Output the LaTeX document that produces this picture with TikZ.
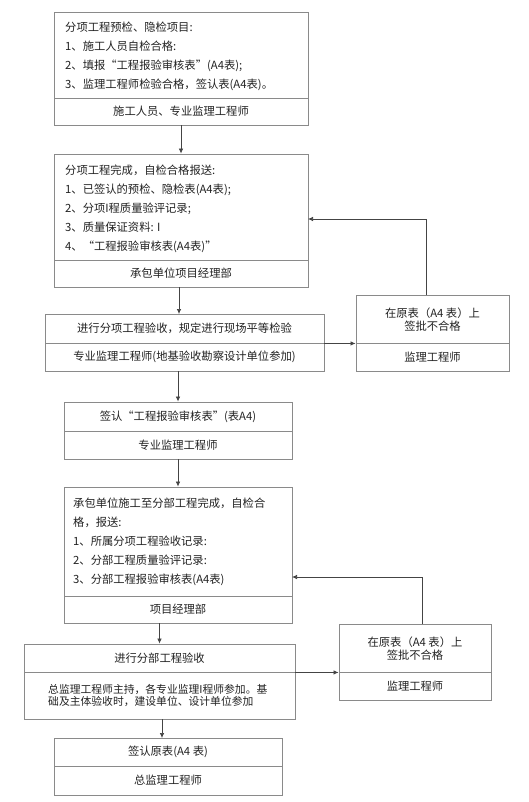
\documentclass[tikz,border=0pt]{standalone}
\usepackage{fontspec}
\setmainfont{Noto Sans CJK SC}
\usetikzlibrary{arrows.meta}
\definecolor{boxline}{HTML}{8A8A8A}
\definecolor{arrline}{HTML}{444444}
\definecolor{txt}{HTML}{222222}
\tikzset{
  part/.style={draw=boxline, line width=0.9pt, inner sep=0pt, minimum width=#1},
  lbl/.style={inner sep=0pt, text=txt, font=\fontsize{11.3}{19}\selectfont},
  lines/.style={lbl, align=left, anchor=west},
  arr/.style={draw=arrline, line width=0.7pt, -{Latex[length=5pt,width=4.5pt]}},
}
\begin{document}
\begin{tikzpicture}[x=1pt,y=-1pt]
\useasboundingbox[fill=white] (0,0) rectangle (528,802);
% Box 1
\node[part=254, minimum height=86] (b1t) at (181,55) {};
\node[part=254, minimum height=27] (b1b) at (181,111.5) {};
\node[lines] (b1x) at (65,56) {分项工程预检、隐检项目:\\1、施工人员自检合格:\\2、填报“工程报验审核表”(A4表);\\3、监理工程师检验合格，签认表(A4表)。};
\node[lbl] (b1y) at (b1b) {施工人员、专业监理工程师};
% Box 2
\node[part=254, minimum height=106] (b2t) at (181,207) {};
\node[part=254, minimum height=27] (b2b) at (181,273.5) {};
\node[lines] (b2x) at (65,208.5) {分项工程完成，自检合格报送:\\1、已签认的预检、隐检表(A4表);\\2、分项I程质量验评记录;\\3、质量保证资料: I\\4、“工程报验审核表(A4表)”};
\node[lbl] (b2y) at (b2b) {承包单位项目经理部};
% Box 3
\node[part=279, minimum height=29] (b3t) at (184.5,328.5) {};
\node[part=279, minimum height=28] (b3b) at (184.5,357) {};
\node[lbl] (b3x) at (b3t) {进行分项工程验收，规定进行现场平等检验};
\node[lbl] (b3y) at (b3b) {专业监理工程师(地基验收勘察设计单位参加)};
% Side 1
\node[part=153, minimum height=48] (s1t) at (432.5,319) {};
\node[part=153, minimum height=28] (s1b) at (432.5,357) {};
\node[lbl, align=center, font=\fontsize{11.3}{13}\selectfont] (s1x) at (432.5,319.5) {在原表（A4 表）上\\签批不合格};
\node[lbl] (s1y) at (s1b) {监理工程师};
% Box 4
\node[part=228, minimum height=29] (b4t) at (178,416.5) {};
\node[part=228, minimum height=28] (b4b) at (178,445) {};
\node[lbl] (b4x) at (b4t) {签认“工程报验审核表”(表A4)};
\node[lbl] (b4y) at (b4b) {专业监理工程师};
% Box 5
\node[part=228, minimum height=109] (b5t) at (178,541.5) {};
\node[part=228, minimum height=27] (b5b) at (178,609.5) {};
\node[lines] (b5x) at (73,541.5) {承包单位施工至分部工程完成，自检合\\格，报送:\\1、所属分项工程验收记录:\\2、分部工程质量验评记录:\\3、分部工程报验审核表(A4表)};
\node[lbl] (b5y) at (b5b) {项目经理部};
% Side 2
\node[part=152, minimum height=48] (s2t) at (415,648) {};
\node[part=152, minimum height=28] (s2b) at (415,686) {};
\node[lbl, align=center, font=\fontsize{11.3}{13}\selectfont] (s2x) at (415,648.5) {在原表（A4 表）上\\签批不合格};
\node[lbl] (s2y) at (s2b) {监理工程师};
% Box 6
\node[part=271, minimum height=28] (b6t) at (159.5,658) {};
\node[part=271, minimum height=47] (b6b) at (159.5,695.5) {};
\node[lbl] (b6x) at (b6t) {进行分部工程验收};
\node[lines, font=\fontsize{10.8}{11.5}\selectfont] (b6y) at (48,695.5) {总监理工程师主持，各专业监理I程师参加。基\\础及主体验收时，建设单位、设计单位参加};
% Box 7
\node[part=228, minimum height=28] (b7t) at (168,752) {};
\node[part=228, minimum height=29] (b7b) at (168,780.5) {};
\node[lbl] (b7x) at (b7t) {签认原表(A4 表)};
\node[lbl] (b7y) at (b7b) {总监理工程师};
% Feedback entry points
\coordinate (in1) at (308,219);
\coordinate (in2) at (292,577);
\coordinate (up1) at (426,295);
\coordinate (up2) at (422,624);
% Connectors
\draw[arr] (b1b.south) -- (b2t.north);
\draw[arr] (b2b.south -| 179,0) -- (179,314);
\draw[arr] (b3t.south east) -- (s1t.south west);
\draw[arr] (up1) |- (in1);
\draw[arr] (b4t.north |- b3b.south) -- (b4t.north);
\draw[arr] (b4b.south) -- (b5t.north);
\draw[arr] (b6t.north |- b5b.south) -- (b6t.north);
\draw[arr] (b6t.south east) -- (s2t.south west);
\draw[arr] (up2) |- (in2);
\draw[arr] (b6b.south -| 162,0) -- (162,738);
\end{tikzpicture}
\end{document}
